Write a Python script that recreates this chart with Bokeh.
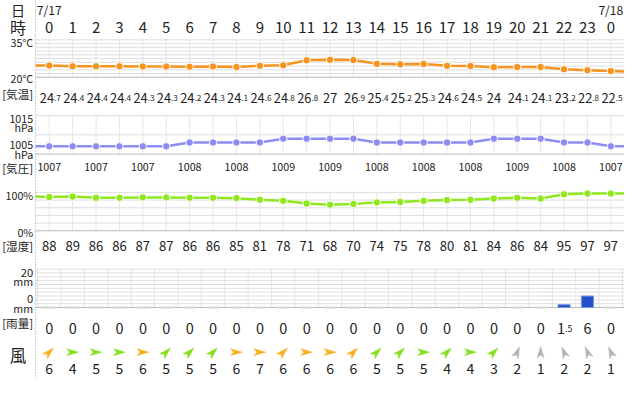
import numpy as np
from bokeh.plotting import figure
from bokeh.models import Range1d
from bokeh.core.properties import value
from bokeh.embed import file_html
from bokeh.resources import INLINE

# ---------------- data ----------------
dates = ["7/17", "7/18"]
hours = [0, 1, 2, 3, 4, 5, 6, 7, 8, 9, 10, 11, 12, 13, 14, 15, 16, 17, 18, 19, 20, 21, 22, 23, 0]
temperature = [24.7, 24.4, 24.4, 24.4, 24.3, 24.3, 24.2, 24.3, 24.1, 24.6, 24.8, 26.8, 27.0,
               26.9, 25.4, 25.2, 25.3, 24.6, 24.5, 24.0, 24.1, 24.1, 23.2, 22.8, 22.5]
temperature_edges = [24.7, 22.3]          # line values at the left / right panel edges
pressure = [1007, 1007, 1007, 1007, 1007, 1007, 1008, 1008, 1008, 1008, 1009, 1009, 1009,
            1009, 1008, 1008, 1008, 1008, 1008, 1009, 1009, 1009, 1008, 1008, 1007]
pressure_edges = [1007, 1007]
humidity = [88, 89, 86, 86, 87, 87, 86, 86, 85, 81, 78, 71, 68, 70, 74, 75, 78, 80, 81, 84,
            86, 84, 95, 97, 97]
humidity_edges = [89, 97]
rain = [0, 0, 0, 0, 0, 0, 0, 0, 0, 0, 0, 0, 0, 0, 0, 0, 0, 0, 0, 0, 0, 0, 1.5, 6, 0]
wind_speed = [6, 4, 5, 5, 6, 5, 5, 5, 6, 7, 6, 6, 6, 6, 5, 5, 5, 4, 4, 3, 2, 1, 2, 2, 1]
wind_dir = ["南西", "西", "西", "西", "西", "南西", "南西", "南西", "西", "西", "南西", "西", "西",
            "南西", "南西", "南西", "西", "南西", "西", "南西", "南南西", "南", "南南東", "南南東", "南南東"]
row_labels = ["日", "時", "[気温]", "[気圧]", "[湿度]", "[雨量]", "風"]
temp_ticks = [(35, "35°C"), (20, "20°C")]
pres_ticks = [(1015, "1015"), (1005, "1005")]
hum_ticks = [(100, "100%"), (0, "0%")]
rain_ticks = [(20, "20"), (0, "0")]

# ---------------- layout ----------------
W, H = 624, 379
REF_W, REF_H = 640, 395
S = 0.97
X0, DX = 50, 24
FONT = value("Noto Sans CJK JP")
DARK = "#222222"


def hx(px):
    return (px - X0) / DX


PANELS = {"temp": (20, 80, 35, 41), "pres": (1005, 160, 1015, 120),
          "hum": (0, 240, 100, 200), "rain": (0, 320, 20, 280)}


def band(name):
    v0, p0, v1, p1 = PANELS[name]
    k = (v1 - v0) / (p0 - p1)
    return Range1d(start=v0 - (REF_H - p0) * k, end=v0 + p0 * k)


p = figure(width=W, height=H, x_range=Range1d(hx(0), hx(REF_W)), y_range=Range1d(REF_H, 0),
           output_backend="svg", toolbar_location=None, min_border=0,
           x_axis_location=None, y_axis_location=None)
p.grid.visible = False
p.outline_line_color = None
p.background_fill_color = "white"
p.border_fill_color = "white"
p.extra_y_ranges = {k: band(k) for k in PANELS}

n = len(hours)
xs = np.arange(n)
xl, xr = hx(36), hx(REF_W)


def hgrid(name, levels, dark_level):
    lv = list(levels)
    cols = ["#b8b8b8" if abs(l - dark_level) < 1e-9 else "#dedede" for l in lv]
    p.segment(x0=[xl] * len(lv), x1=[xr] * len(lv), y0=lv, y1=lv, line_color=cols,
              line_width=1, y_range_name=name)


def vgrid(name, xpos, lo, hi):
    xpos = list(xpos)
    p.segment(x0=xpos, x1=xpos, y0=[lo] * len(xpos), y1=[hi] * len(xpos),
              line_color="#e6e6e6", line_width=1, y_range_name=name)


# grids
vgrid("temp", xs, 20, 35)
hgrid("temp", np.arange(20, 35.01, 1.5), 20)
vgrid("pres", xs, 1005, 1015)
hgrid("pres", [1005, 1010, 1015], 1005)
vgrid("hum", xs, 0, 100)
hgrid("hum", range(0, 101, 20), 0)
vgrid("rain", np.arange(n + 1) - 0.5, 0, 20)
hgrid("rain", range(0, 21, 2), 0)

# dotted separator
p.segment(x0=[xl], x1=[xl], y0=[0], y1=[REF_H], line_color="#999999", line_width=1,
          line_dash="1 2")


def series(name, vals, edges, color):
    lx = [xl] + list(xs) + [xr]
    ly = [edges[0]] + list(vals) + [edges[1]]
    p.line(lx, ly, line_color=color, line_width=2.5, y_range_name=name)
    p.scatter(list(xs), list(vals), size=7.5, fill_color=color, line_color="white",
              line_width=1, y_range_name=name)


series("temp", temperature, temperature_edges, "#f7931e")
series("pres", pressure, pressure_edges, "#8c8cf5")
series("hum", humidity, humidity_edges, "#8ee81c")

# rain
wet = [i for i, r in enumerate(rain) if r > 0]
dry = [i for i, r in enumerate(rain) if r == 0]
p.segment(x0=[i - 0.27 for i in dry], x1=[i + 0.27 for i in dry], y0=[0] * len(dry),
          y1=[0] * len(dry), line_color="#d4d4d4", line_width=2, y_range_name="rain")
p.vbar(x=wet, top=[rain[i] for i in wet], bottom=0, width=0.52, fill_color="#2450c8",
       line_color="#7f97e0", line_width=1, y_range_name="rain")


def txt(x, y, t, size, align="center", baseline="middle", color=DARK, font=FONT, angle=0):
    p.text(x=x, y=y, text=t, text_font=font, text_font_size=f"{size * S:.1f}px",
           text_align=align, text_baseline=baseline, text_color=color, angle=angle)


# header
txt([hx(18)], [10], [row_labels[0]], 14.5)
txt([0, n - 1], [9.5, 9.5], dates, 12.5)
txt([hx(18)], [28], [row_labels[1]], 16.5)
txt(list(xs), [28] * n, [str(h) for h in hours], 15.5)

# left tick labels
RX = hx(33.5)


def pos(name, v):
    v0, p0, v1, p1 = PANELS[name]
    return p0 + (v - v0) * (p1 - p0) / (v1 - v0)


txt([RX], [pos("temp", temp_ticks[0][0]) + 2.5], [temp_ticks[0][1]], 11, align="right")
txt([RX], [pos("temp", temp_ticks[1][0]) + 1], [temp_ticks[1][1]], 11, align="right")
txt([RX], [pos("pres", pres_ticks[0][0]) + 3], [pres_ticks[0][1]], 11, align="right")
txt([RX], [pos("pres", pres_ticks[0][0]) + 12.5], ["hPa"], 11, align="right")
txt([RX], [pos("pres", pres_ticks[1][0]) - 9], [pres_ticks[1][1]], 11, align="right")
txt([RX], [pos("pres", pres_ticks[1][0]) + 1], ["hPa"], 11, align="right")
txt([RX], [pos("hum", hum_ticks[0][0]) + 3.5], [hum_ticks[0][1]], 11, align="right")
txt([RX], [pos("hum", hum_ticks[1][0]) + 1.5], [hum_ticks[1][1]], 11, align="right")
txt([RX], [pos("rain", rain_ticks[0][0]) + 3.5], [rain_ticks[0][1]], 11.5, align="right")
txt([RX], [pos("rain", rain_ticks[0][0]) + 13], ["mm"], 11, align="right")
txt([RX], [pos("rain", rain_ticks[1][0]) - 9], [rain_ticks[1][1]], 11.5, align="right")
txt([RX], [pos("rain", rain_ticks[1][0]) + 1], ["mm"], 11, align="right")

txt([RX], [97], [row_labels[2]], 12, align="right")
txt([RX], [175], [row_labels[3]], 12, align="right")
txt([RX], [256], [row_labels[4]], 12, align="right")
txt([RX], [336], [row_labels[5]], 12, align="right")
txt([hx(18)], [369], [row_labels[6]], 17)


def split_labels(vals, yc, big, small, nudge):
    xi, ti, tf = [], [], []
    for i, v in enumerate(vals):
        s = f"{v:g}"
        a, b = (s.split(".")[0], "." + s.split(".")[1]) if "." in s else (s, "")
        wi = len(a) * 0.56 * big
        wf = (0.25 + 0.56 * (len(b) - 1)) * small if b else 0
        off = ((wi + wf) / 2 - wf + (nudge if b else 0)) / DX
        xi.append(i + off)
        ti.append(a)
        tf.append(b)
    yb = yc + 0.36 * big
    txt(xi, [yb] * len(xi), ti, big, align="right", baseline="alphabetic")
    fx = [xi[i] for i in range(len(tf)) if tf[i]]
    ft = [t for t in tf if t]
    txt(fx, [yb] * len(fx), ft, small, align="left", baseline="alphabetic")


split_labels(temperature, 97, 13.2, 8.5, 1.0)
# pressure every two hours
pi = list(range(0, n, 2))
txt(pi, [173.5] * len(pi), [str(pressure[i]) for i in pi], 11)
txt(list(xs), [256] * n, [str(h) for h in humidity], 13.5)
split_labels(rain, 336, 15, 9, 0.5)

# wind arrows (dart shape rotated toward the direction the wind blows to)
COMPASS = ["北", "北北東", "北東", "東北東", "東", "東南東", "南東", "南南東",
           "南", "南南西", "南西", "西南西", "西", "西北西", "北西", "北北西"]
DART = np.array([[6.0, 0.0], [-6.0, 3.6], [-3.0, 0.0], [-6.0, -3.6]])  # px, pointing +x
AY = 366.5
axs, ays, cols = [], [], []
for i, (d, sp) in enumerate(zip(wind_dir, wind_speed)):
    frm = COMPASS.index(d) * 22.5
    th = np.deg2rad(90 - (frm + 180) % 360)
    c, s = np.cos(th), np.sin(th)
    rx = DART[:, 0] * c - DART[:, 1] * s
    ry = DART[:, 0] * s + DART[:, 1] * c
    axs.append(list(i + rx / DX))
    ays.append(list(AY - ry))
    cols.append("#b4b4b4" if sp <= 2 else ("#84e01e" if sp <= 5 else "#f8b020"))
p.patches(axs, ays, fill_color=cols, line_color=cols, line_width=0.5)
txt(list(xs), [384] * n, [str(s) for s in wind_speed], 14.5)

open("out.html", "w").write(file_html(p, INLINE))
